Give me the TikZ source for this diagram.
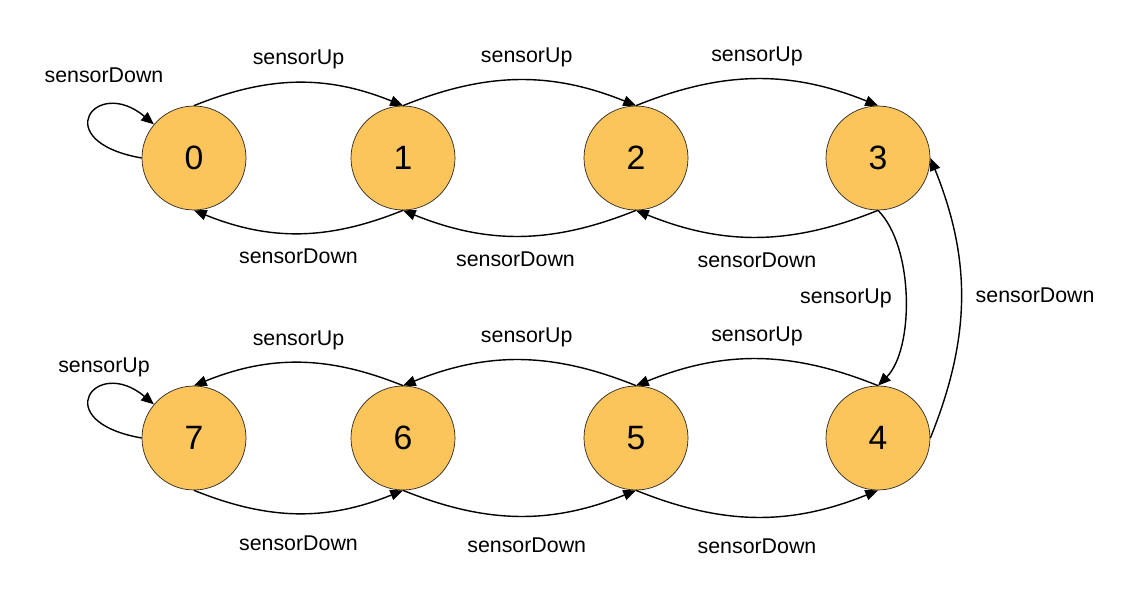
\documentclass[tikz,border=0pt]{standalone}
\usepackage{fontspec}
\setmainfont{Liberation Sans}
\usetikzlibrary{arrows.meta}
\definecolor{statefill}{HTML}{FCC55C}
\tikzset{
	statenode/.style={circle, draw=black!85, line width=0.5pt, fill=statefill, minimum size=2.6cm, inner sep=0pt, font=\fontsize{24}{28}\selectfont},
	trans/.style={line width=1pt, -{Triangle[length=9pt, width=7.5pt]}},
	lbl/.style={inner sep=0pt, font=\fontsize{15.2}{18}\selectfont}
}

\begin{document}
\begin{tikzpicture}
	%%%%% START %%%%%
	\useasboundingbox (0, 0) rectangle (28.075, 14.825);
	
	\node[statenode] (s0) at (4.85, 10.875) {0};
	\node[statenode] (s1) at (10.075, 10.875) {1};
	\node[statenode] (s2) at (15.9, 10.875) {2};
	\node[statenode] (s3) at (21.95, 10.875) {3};
	
	\node[statenode] (s7) at (4.85, 3.875) {7};
	\node[statenode] (s6) at (10.075, 3.875) {6};
	\node[statenode] (s5) at (15.9, 3.875) {5};
	\node[statenode] (s4) at (21.95, 3.875) {4};
	
	% upper row
	\draw[trans] (s0.west) to[out=170, in=140, out distance=2.4cm, in distance=1.9cm] node[lbl, pos=0.63, above=0.64cm, xshift=0.1cm] {sensorDown} (s0.140);
	\draw[trans] (s0.north) to[bend left=22] node[lbl, above=0.32cm] {sensorUp} (s1.north);
	\draw[trans] (s1.north) to[bend left=22] node[lbl, above=0.32cm, xshift=0.18cm] {sensorUp} (s2.north);
	\draw[trans] (s2.north) to[bend left=22] node[lbl, above=0.32cm] {sensorUp} (s3.north);
	\draw[trans] (s1.south) to[bend left=22] node[lbl, below=0.38cm] {sensorDown} (s0.south);
	\draw[trans] (s2.south) to[bend left=22] node[lbl, below=0.38cm, xshift=-0.1cm] {sensorDown} (s1.south);
	\draw[trans] (s3.south) to[bend left=22] node[lbl, below=0.38cm] {sensorDown} (s2.south);
	
	% right side
	\draw[trans] (s3.south) to[bend left=45, looseness=0.75] node[lbl, left=0.32cm] {sensorUp} (s4.north);
	\draw[trans] (s4.east) to[bend right=22] node[lbl, right=0.35cm, yshift=0.08cm] {sensorDown} (s3.east);
	
	% lower row
	\draw[trans] (s4.north) to[bend right=22] node[lbl, above=0.3cm] {sensorUp} (s5.north);
	\draw[trans] (s5.north) to[bend right=22] node[lbl, above=0.3cm, xshift=0.18cm] {sensorUp} (s6.north);
	\draw[trans] (s6.north) to[bend right=22] node[lbl, above=0.3cm] {sensorUp} (s7.north);
	\draw[trans] (s7.south) to[bend right=22] node[lbl, below=0.54cm] {sensorDown} (s6.south);
	\draw[trans] (s6.south) to[bend right=22] node[lbl, below=0.54cm, xshift=0.18cm] {sensorDown} (s5.south);
	\draw[trans] (s5.south) to[bend right=22] node[lbl, below=0.54cm] {sensorDown} (s4.south);
	\draw[trans] (s7.west) to[out=170, in=140, out distance=2.4cm, in distance=1.9cm] node[lbl, pos=0.63, above=0.28cm, xshift=0.1cm] {sensorUp} (s7.140);
	
	%%%%% END %%%%%
\end{tikzpicture}
\end{document}
